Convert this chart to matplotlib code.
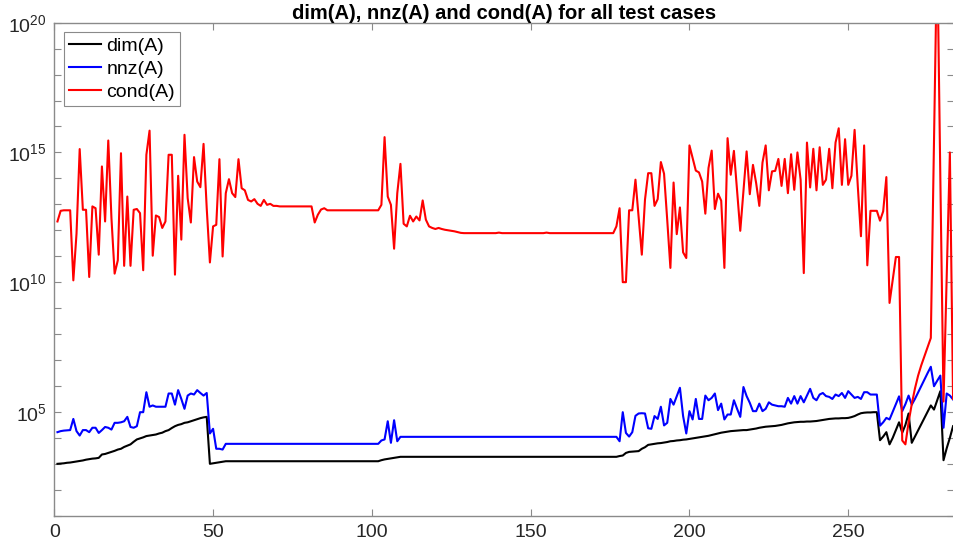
import numpy as np
import matplotlib
matplotlib.use("Agg")
import matplotlib.pyplot as plt
from matplotlib.ticker import FixedLocator, NullLocator, FuncFormatter

plt.rcParams['font.family'] = ['Liberation Sans', 'DejaVu Sans']
plt.rcParams['mathtext.default'] = 'regular'

# log10 of each quantity, for test cases 1..283
dim_log = [
    3.00, 3.01, 3.02, 3.04, 3.05, 3.07, 3.09, 3.11, 3.13, 3.16,
    3.18, 3.20, 3.21, 3.23, 3.36, 3.38, 3.42, 3.46, 3.50, 3.55,
    3.58, 3.65, 3.70, 3.75, 3.85, 3.94, 3.98, 4.02, 4.07, 4.09,
    4.11, 4.13, 4.17, 4.20, 4.26, 4.30, 4.38, 4.45, 4.50, 4.53,
    4.58, 4.60, 4.64, 4.68, 4.72, 4.76, 4.79, 4.81, 3.00, 3.02,
    3.04, 3.06, 3.08] + [3.10] * 49 + [
    3.14, 3.17, 3.19, 3.21, 3.23, 3.25, 3.27, 3.27] + [3.27] * 67 + [
    3.30, 3.32, 3.42, 3.46, 3.47, 3.48, 3.49, 3.58, 3.64, 3.73, 3.75, 3.77, 3.79,
    3.80, 3.82, 3.84, 3.87, 3.88, 3.90, 3.91, 3.93, 3.94, 3.96,
    3.98, 4.00, 4.02, 4.04, 4.06, 4.08, 4.11, 4.14, 4.17, 4.20,
    4.22, 4.24, 4.26, 4.27, 4.28, 4.29, 4.30, 4.30, 4.32, 4.34,
    4.36, 4.39, 4.41, 4.43, 4.44, 4.45, 4.46, 4.48, 4.50, 4.53,
    4.56, 4.58, 4.60, 4.61, 4.62, 4.62, 4.63, 4.63, 4.64, 4.65,
    4.67, 4.69, 4.71, 4.73, 4.74, 4.75, 4.75, 4.76, 4.76, 4.77,
    4.80, 4.84, 4.90, 4.95, 4.97, 4.98, 4.98, 4.99, 4.99, 3.91,
    4.05, 4.22, 3.75, 4.00, 4.30, 4.60, 4.20, 4.50, 4.94, 3.81,
    4.05, 4.29, 4.53, 4.77, 5.01, 5.25, 5.09, 5.45, 5.80, 3.14,
    3.60, 4.00, 4.45]

nnz_log = [
    4.22, 4.26, 4.28, 4.29, 4.30, 4.73, 4.26, 4.09, 4.30, 4.30,
    4.22, 4.39, 4.39, 4.19, 4.30, 4.42, 4.39, 4.32, 4.58, 4.58,
    4.60, 4.64, 4.81, 4.42, 4.39, 4.45, 4.99, 4.99, 5.76, 5.20,
    5.25, 5.20, 5.20, 5.20, 5.20, 5.71, 5.71, 5.28, 5.84, 5.50,
    5.12, 5.63, 5.71, 5.67, 5.84, 5.73, 5.63, 5.73, 4.17, 4.35,
    3.58, 3.58, 3.55] + [3.77] * 49 + [
    3.90, 3.94, 4.64, 3.81, 4.68, 3.87, 4.04, 4.04] + [4.04] * 67 + [
    3.87, 4.99, 4.19, 4.05, 4.22, 4.85, 4.94, 4.95, 4.94, 4.37,
    4.35, 4.84, 4.73, 5.20, 4.48, 4.58, 5.50, 5.28, 5.60, 5.93,
    4.84, 4.17, 5.03, 4.71, 5.50, 4.73, 4.73, 5.63, 5.45, 5.54,
    5.71, 5.07, 5.32, 4.71, 4.90, 4.90, 5.45, 5.12, 4.81, 5.96,
    5.61, 5.35, 5.03, 5.03, 5.32, 5.03, 5.12, 5.37, 5.28, 5.25,
    5.22, 5.22, 5.20, 5.54, 5.32, 5.61, 5.32, 5.61, 5.37, 5.63,
    5.89, 5.54, 5.45, 5.67, 5.73, 5.61, 5.58, 5.50, 5.67, 5.61,
    5.73, 5.54, 5.80, 5.67, 5.54, 5.58, 5.50, 5.76, 5.76, 5.67,
    5.67, 5.67, 4.47, 4.60, 4.77, 4.71, 5.00, 5.30, 5.60, 5.03,
    5.30, 5.63, 5.28, 5.50, 5.75, 6.00, 6.25, 6.50, 6.74, 5.99,
    6.20, 6.40, 4.39, 5.71, 5.63, 5.48]

cond_log = [
    12.34, 12.75, 12.77, 12.77, 12.77, 10.07, 11.87, 15.13, 12.79, 12.79,
    10.20, 12.92, 12.85, 11.06, 14.46, 12.34, 15.46, 12.47, 10.33, 10.84,
    14.97, 10.63, 13.30, 10.63, 12.79, 12.82, 12.66, 10.46, 14.91, 15.84,
    11.02, 12.57, 12.51, 12.09, 12.34, 14.91, 14.91, 10.29, 14.10, 11.64,
    15.68, 13.24, 12.30, 14.82, 13.88, 13.66, 15.33, 12.85, 10.76, 12.15,
    12.21, 14.74, 10.99, 13.43, 13.97, 13.43, 13.28, 14.74, 13.62, 13.54,
    13.17, 13.11, 13.20, 13.02, 12.94, 13.17, 12.98, 13.02, 12.94, 12.94,
    ] + [12.92] * 11 + [12.30, 12.60, 12.80, 12.85] + [12.77] * 17 + [
    12.98, 15.59, 13.30, 12.98, 11.29, 13.43, 14.56, 12.25,
    12.15, 12.56, 12.34, 12.53, 12.38, 13.15, 12.41, 12.15, 12.09, 12.05,
    12.09, 12.05, 12.02, 12.00, 11.98, 11.96, 11.93, 11.90, 11.89, 11.89,
    ] + [11.89] * 9 + [11.91] + [11.89] * 14 + [11.91] + [11.89] * 21 + [
    12.15, 12.85, 10.00, 10.00,
    12.77, 12.77, 13.95, 12.50, 11.06, 13.18, 14.20, 14.20, 12.94, 13.20,
    14.63, 14.18, 12.40, 10.55, 13.84, 11.85, 12.88, 11.15, 10.93, 15.27,
    14.78, 14.30, 14.23, 13.88, 12.64, 14.40, 15.07, 12.82, 13.41, 13.14,
    10.55, 15.55, 14.14, 15.06, 13.50, 11.98, 13.50, 15.04, 13.39, 14.52,
    13.82, 12.94, 14.61, 15.27, 13.54, 14.27, 14.29, 14.75, 13.71, 14.75,
    13.43, 14.93, 13.56, 15.00, 13.95, 10.35, 15.38, 13.65, 15.14, 13.54,
    15.20, 13.75, 13.95, 15.14, 13.62, 15.38, 15.93, 13.75, 15.51, 13.75,
    14.10, 15.87, 13.71, 11.77, 15.27, 10.65, 12.75, 12.75, 12.75, 12.37,
    12.73, 14.05, 9.20, 10.10, 10.97, 10.97, 3.90, 3.75, 4.60, 5.30,
    5.90, 6.40, 6.80, 7.15, 7.50, 7.85, 15.40, 23.00, 14.00, 5.40,
    10.20, 15.00, 5.50]

series_labels = ["dim(A)", "nnz(A)", "cond(A)"]
series_colors = ["#000000", "#0000ff", "#ff0000"]
x_ticks = [0, 50, 100, 150, 200, 250]

fig = plt.figure(figsize=(9.54, 5.48), dpi=100)
ax = fig.add_axes([0.0569, 0.0589, 0.9431, 0.8997])

for vals, lab, col in zip([dim_log, nnz_log, cond_log], series_labels, series_colors):
    cases = np.arange(1, len(vals) + 1)
    ax.plot(cases, 10.0 ** np.array(vals), color=col, lw=1.5, label=lab)

ax.set_yscale('log')
ax.set_xlim(0, 283.3)
ax.set_ylim(1e1, 1e20)

ax.yaxis.set_major_locator(FixedLocator([10.0 ** k for k in range(1, 21)]))
ax.yaxis.set_minor_locator(NullLocator())
ax.yaxis.set_major_formatter(FuncFormatter(
    lambda v, pos: "$10^{%d}$" % round(np.log10(v)) if round(np.log10(v)) % 5 == 0 else ""))
ax.set_xticks(x_ticks)

gray = "#8a8a8a"
for s in ax.spines.values():
    s.set_color(gray)
    s.set_linewidth(1.0)
ax.tick_params(which='both', direction='in', top=True, right=True,
               length=5, width=0.8, color=gray, labelcolor='#262626',
               labelsize=14)
ax.tick_params(axis='x', pad=6)
ax.tick_params(axis='y', pad=5.5)

ax.set_title("dim(A), nnz(A) and cond(A) for all test cases",
             fontsize=14.5, fontweight='bold', pad=3)

leg = ax.legend(loc='upper left', bbox_to_anchor=(0.0111, 0.9805), borderaxespad=0,
                fontsize=14, handlelength=1.65, handletextpad=0.26,
                labelspacing=0.28, borderpad=0.26, fancybox=False,
                framealpha=1, edgecolor=gray)
leg.get_frame().set_linewidth(0.8)

fig.savefig("out.png", dpi=100)
